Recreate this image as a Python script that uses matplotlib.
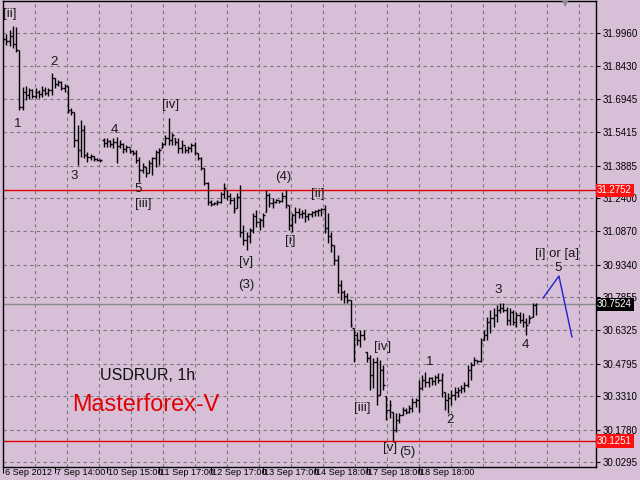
import numpy as np
import matplotlib
matplotlib.use('Agg')
import matplotlib.pyplot as plt
from matplotlib.transforms import ScaledTranslation

# USDRUR 1h bars (MT4 style), 6 Sep - 18 Sep 2012
high = [31.977, 31.991, 32.010, 32.028, 32.023, 31.918, 31.748, 31.753, 31.744, 31.739,
        31.744, 31.734, 31.753, 31.748, 31.744, 31.812, 31.789, 31.780, 31.776, 31.762,
        31.753, 31.652, 31.634, 31.574, 31.597, 31.574, 31.450, 31.441, 31.432, 31.423,
        31.418, 31.514, 31.514, 31.505, 31.514, 31.519, 31.505, 31.492, 31.482, 31.469,
        31.459, 31.459, 31.427, 31.400, 31.382, 31.414, 31.427, 31.459, 31.469, 31.496,
        31.528, 31.606, 31.537, 31.514, 31.514, 31.505, 31.478, 31.478, 31.492, 31.496,
        31.446, 31.427, 31.377, 31.313, 31.230, 31.221, 31.230, 31.267, 31.308, 31.276,
        31.262, 31.244, 31.262, 31.299, 31.116, 31.084, 31.102, 31.171, 31.184, 31.148,
        31.171, 31.276, 31.262, 31.239, 31.235, 31.230, 31.267, 31.276, 31.207, 31.171,
        31.198, 31.194, 31.184, 31.189, 31.171, 31.180, 31.184, 31.189, 31.194, 31.207,
        31.171, 31.084, 31.024, 30.978, 30.864, 30.818, 30.804, 30.772, 30.643, 30.625,
        30.634, 30.634, 30.533, 30.520, 30.506, 30.511, 30.497, 30.474, 30.332, 30.313,
        30.258, 30.254, 30.254, 30.281, 30.277, 30.291, 30.323, 30.323, 30.405, 30.428,
        30.442, 30.419, 30.419, 30.428, 30.437, 30.437, 30.350, 30.346, 30.359, 30.373,
        30.373, 30.382, 30.396, 30.474, 30.488, 30.511, 30.497, 30.598, 30.634, 30.694,
        30.726, 30.735, 30.749, 30.758, 30.758, 30.740, 30.735, 30.726, 30.717, 30.717,
        30.712, 30.689, 30.703, 30.758, 30.758]
low = [31.950, 31.941, 31.936, 31.927, 31.909, 31.643, 31.643, 31.689, 31.693, 31.698,
       31.698, 31.698, 31.702, 31.712, 31.707, 31.712, 31.744, 31.753, 31.734, 31.725,
       31.629, 31.620, 31.473, 31.391, 31.427, 31.423, 31.404, 31.414, 31.409, 31.409,
       31.404, 31.473, 31.473, 31.473, 31.469, 31.400, 31.469, 31.446, 31.450, 31.446,
       31.437, 31.400, 31.313, 31.354, 31.336, 31.354, 31.345, 31.382, 31.391, 31.469,
       31.482, 31.482, 31.482, 31.482, 31.446, 31.446, 31.446, 31.446, 31.450, 31.437,
       31.414, 31.368, 31.299, 31.207, 31.203, 31.207, 31.207, 31.216, 31.239, 31.230,
       31.212, 31.171, 31.194, 31.061, 31.024, 31.001, 31.033, 31.079, 31.106, 31.093,
       31.106, 31.175, 31.198, 31.194, 31.216, 31.216, 31.221, 31.194, 31.093, 31.084,
       31.125, 31.148, 31.148, 31.129, 31.139, 31.152, 31.157, 31.157, 31.157, 31.079,
       31.033, 30.992, 30.932, 30.804, 30.772, 30.758, 30.758, 30.648, 30.488, 30.566,
       30.556, 30.588, 30.488, 30.359, 30.368, 30.291, 30.336, 30.359, 30.222, 30.231,
       30.125, 30.167, 30.208, 30.245, 30.249, 30.254, 30.258, 30.281, 30.258, 30.359,
       30.373, 30.373, 30.382, 30.382, 30.391, 30.327, 30.268, 30.254, 30.291, 30.313,
       30.327, 30.346, 30.350, 30.373, 30.405, 30.474, 30.483, 30.488, 30.588, 30.588,
       30.621, 30.648, 30.671, 30.712, 30.717, 30.657, 30.657, 30.657, 30.648, 30.666,
       30.648, 30.611, 30.666, 30.694, 30.703]
open_ = [31.964, 31.968, 31.959, 31.982, 31.945, 31.918, 31.657, 31.725, 31.712, 31.734,
         31.707, 31.725, 31.716, 31.734, 31.721, 31.734, 31.789, 31.762, 31.771, 31.744,
         31.753, 31.643, 31.634, 31.505, 31.459, 31.551, 31.437, 31.427, 31.432, 31.418,
         31.414, 31.505, 31.492, 31.501, 31.487, 31.496, 31.478, 31.487, 31.464, 31.473,
         31.455, 31.446, 31.414, 31.368, 31.382, 31.354, 31.400, 31.423, 31.450, 31.469,
         31.487, 31.514, 31.505, 31.514, 31.496, 31.469, 31.482, 31.459, 31.469, 31.482,
         31.446, 31.423, 31.377, 31.308, 31.221, 31.212, 31.216, 31.221, 31.258, 31.276,
         31.249, 31.230, 31.194, 31.244, 31.084, 31.047, 31.065, 31.093, 31.157, 31.129,
         31.139, 31.175, 31.253, 31.216, 31.221, 31.230, 31.226, 31.249, 31.207, 31.116,
         31.161, 31.175, 31.166, 31.171, 31.157, 31.166, 31.175, 31.180, 31.184, 31.189,
         31.102, 31.065, 31.024, 30.955, 30.841, 30.809, 30.790, 30.772, 30.643, 30.611,
         30.588, 30.611, 30.533, 30.506, 30.428, 30.488, 30.336, 30.451, 30.332, 30.268,
         30.258, 30.176, 30.222, 30.245, 30.268, 30.258, 30.277, 30.304, 30.313, 30.368,
         30.405, 30.396, 30.414, 30.401, 30.419, 30.405, 30.350, 30.313, 30.323, 30.336,
         30.350, 30.359, 30.368, 30.382, 30.451, 30.474, 30.497, 30.492, 30.588, 30.611,
         30.671, 30.689, 30.703, 30.726, 30.735, 30.726, 30.680, 30.717, 30.671, 30.703,
         30.680, 30.671, 30.666, 30.694, 30.749]
close = [31.968, 31.959, 31.982, 31.945, 31.918, 31.657, 31.725, 31.712, 31.734, 31.707,
         31.725, 31.716, 31.734, 31.721, 31.734, 31.789, 31.762, 31.771, 31.744, 31.753,
         31.643, 31.634, 31.505, 31.459, 31.551, 31.437, 31.427, 31.432, 31.418, 31.414,
         31.414, 31.492, 31.501, 31.487, 31.496, 31.478, 31.487, 31.464, 31.473, 31.455,
         31.446, 31.414, 31.368, 31.386, 31.354, 31.400, 31.423, 31.450, 31.459, 31.487,
         31.514, 31.505, 31.528, 31.496, 31.469, 31.482, 31.459, 31.469, 31.482, 31.450,
         31.423, 31.377, 31.308, 31.221, 31.212, 31.216, 31.221, 31.258, 31.285, 31.249,
         31.230, 31.184, 31.244, 31.084, 31.047, 31.065, 31.093, 31.157, 31.129, 31.139,
         31.161, 31.253, 31.216, 31.221, 31.230, 31.226, 31.249, 31.207, 31.116, 31.161,
         31.175, 31.166, 31.171, 31.157, 31.166, 31.175, 31.180, 31.184, 31.189, 31.102,
         31.065, 31.024, 30.955, 30.841, 30.809, 30.790, 30.772, 30.657, 30.611, 30.588,
         30.611, 30.598, 30.506, 30.428, 30.488, 30.336, 30.451, 30.382, 30.268, 30.291,
         30.176, 30.222, 30.245, 30.268, 30.258, 30.277, 30.304, 30.313, 30.368, 30.405,
         30.396, 30.414, 30.401, 30.419, 30.405, 30.428, 30.313, 30.323, 30.336, 30.350,
         30.359, 30.368, 30.382, 30.451, 30.474, 30.497, 30.492, 30.575, 30.611, 30.671,
         30.689, 30.703, 30.726, 30.735, 30.726, 30.680, 30.717, 30.671, 30.703, 30.680,
         30.671, 30.657, 30.689, 30.749, 30.7524]

date_labels = ['6 Sep 2012', '7 Sep 14:00', '10 Sep 15:00', '11 Sep 17:00', '12 Sep 17:00',
               '13 Sep 17:00', '14 Sep 18:00', '17 Sep 18:00', '18 Sep 18:00']
date_pos = [0, 16, 32, 48, 64, 80, 96, 112, 128]
price_ticks = [31.9960, 31.8430, 31.6945, 31.5415, 31.3885, 31.2400, 31.0870,
               30.9340, 30.7855, 30.6325, 30.4795, 30.3310, 30.1780, 30.0295]
red_levels = [31.2752, 30.1251]
last_price = 30.7524

# projected wave (blue line)
proj_x = [166.2, 171.1, 175.1]
proj_y = [30.781, 30.882, 30.603]

# Elliott wave marks: text, bar index, price
wave_labels = [
    ('[ii]', 2.2, 32.083), ('1', 4.6, 31.579), ('2', 15.7, 31.863), ('3', 21.8, 31.340),
    ('4', 34.2, 31.551), ('5', 41.5, 31.281), ('[iii]', 43.1, 31.212), ('[iv]', 51.7, 31.666),
    ('(4)', 86.2, 31.336), ('[ii]', 96.9, 31.258), ('[i]', 88.3, 31.043), ('[v]', 74.8, 30.946),
    ('(3)', 74.8, 30.841), ('[iv]', 116.9, 30.557), ('[iii]', 110.5, 30.277), ('[v]', 119.1, 30.094),
    ('(5)', 124.3, 30.075), ('1', 131.4, 30.488), ('2', 137.5, 30.222), ('3', 152.3, 30.818),
    ('4', 160.9, 30.566), ('[i] or [a]', 170.5, 30.983), ('5', 170.8, 30.919),
]

bg = '#d8bfd8'
fig = plt.figure(figsize=(6.4, 4.8), dpi=100, facecolor=bg)
ax = fig.add_axes([0.0042, 0.0271, 0.9270, 0.9708], facecolor=bg)

x = np.arange(len(high))
ax.set_xlim(-0.1, 182.5)
ax.set_ylim(30.0066, 32.1427)

# grid
for p in price_ticks:
    ax.axhline(p, color='#7a7a7a', lw=0.8, ls=(0, (3, 3)), zorder=1)
for gx in np.arange(1, 19) * 9.846:
    ax.axvline(gx, color='#7a7a7a', lw=0.8, ls=(0, (3, 3)), zorder=1)

# level lines
for lv in red_levels:
    ax.axhline(lv, color='#e00000', lw=1, zorder=2)
ax.axhline(last_price, color='#8a8a8a', lw=1, zorder=2)

# OHLC bars
ax.vlines(x, low, high, color='black', lw=1, zorder=3)
ax.hlines(open_, x - 0.5, x, color='black', lw=1, zorder=3)
ax.hlines(close, x, x + 0.5, color='black', lw=1, zorder=3)

ax.plot(proj_x, proj_y, color='#2020cc', lw=1, zorder=4)

for txt, bx, by in wave_labels:
    ax.text(bx, by, txt, ha='center', va='center', fontsize=9.5,
            family='Liberation Sans', color='#1a1a1a', zorder=5)

ax.text(29.8, 30.424, 'USDRUR, 1h', fontsize=11.5, family='Liberation Sans',
        color='#101010', va='center', ha='left')
ax.text(21.2, 30.291, 'Masterforex-V', fontsize=16.8, family='Liberation Sans',
        color='#e00000', va='center', ha='left')

# axes
ax.set_xticks(date_pos)
ax.set_xticklabels(date_labels, ha='left', fontsize=6.6, family='Liberation Sans')
ax.yaxis.tick_right()
ax.set_yticks(price_ticks)
ax.set_yticklabels(['%.4f' % p for p in price_ticks], fontsize=7, family='Liberation Sans')
ax.tick_params(axis='y', length=3, width=0.8, color='black', pad=2)
ax.tick_params(axis='x', length=4, width=0.8, color='black', pad=-3.5)
shift = ScaledTranslation(1.5 / 100, 0, fig.dpi_scale_trans)
for lab in ax.get_xticklabels():
    lab.set_transform(lab.get_transform() + shift)
for s in ax.spines.values():
    s.set_color('black')
    s.set_linewidth(1)

ytr = ax.get_yaxis_transform()
for lv in red_levels:
    ax.text(1.002, lv, '%.4f' % lv, transform=ytr, ha='left', va='center', fontsize=7,
            family='Liberation Sans', color='white', zorder=6,
            bbox=dict(facecolor='#ff1010', edgecolor='none', pad=1.2))
ax.text(1.002, last_price, '%.4f' % last_price, transform=ytr, ha='left', va='center',
        fontsize=7, family='Liberation Sans', color='white', zorder=6,
        bbox=dict(facecolor='black', edgecolor='none', pad=1.2))

# chart shift marker
fig.text(565 / 640, 1 - 4 / 480, u'\u25bc', color='#8a8a8a', fontsize=6,
         ha='center', va='center')

fig.savefig('out.png', dpi=100, facecolor=bg)
